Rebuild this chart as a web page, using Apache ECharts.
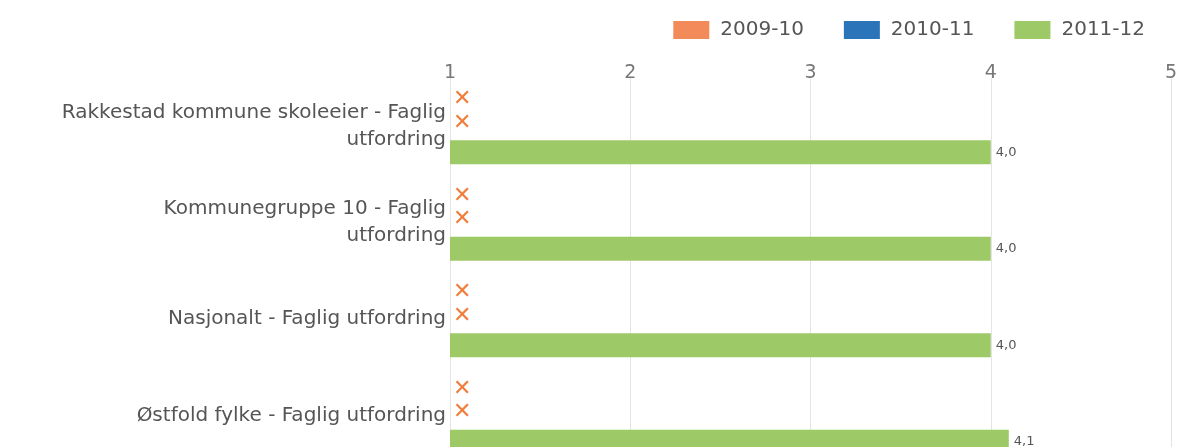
<!DOCTYPE html>
<html>
<head>
<meta charset="utf-8">
<script src="https://cdn.jsdelivr.net/npm/echarts@6/dist/echarts.min.js"></script>
<style>
  html, body { margin: 0; padding: 0; background: #fff; }
  #chart { width: 1182px; height: 447px; }
</style>
</head>
<body>
<div id="chart"></div>
<script>
// kategorier (ovenfra og ned)
var categories = [
    'Rakkestad kommune skoleeier - Faglig\nutfordring',
    'Kommunegruppe 10 - Faglig\nutfordring',
    'Nasjonalt - Faglig utfordring',
    'Østfold fylke - Faglig utfordring'
];
var seriesNames = ['2009-10', '2010-11', '2011-12'];
// null = mangler data (vises som kryss)
var values0910 = [null, null, null, null];
var values1011 = [null, null, null, null];
var values1112 = [4.0, 4.0, 4.0, 4.1];
var xTicks = [1, 2, 3, 4, 5];

var FONT = "'DejaVu Sans'";
var colors = ['#f28a5a', '#2c74b9', '#9dc966'];
var crossColor = '#f07d3a';
var xMin = xTicks[0];
var xMax = xTicks[xTicks.length - 1];

var myChart = echarts.init(document.getElementById('chart'));

function buildData(values, labelOffset) {
    var out = [];
    for (var i = 0; i < values.length; i++) {
        if (values[i] == null) {
            // manglende verdi: tom stolpe ved aksens start, med kryss
            out.push({
                value: xMin,
                missing: true,
                label: {
                    show: true,
                    position: 'right',
                    distance: 3,
                    offset: labelOffset,
                    formatter: '\u2715',
                    color: crossColor,
                    fontSize: 22,
                    fontFamily: FONT
                }
            });
        } else {
            out.push({ value: values[i] });
        }
    }
    return out;
}

function makeSeries(idx, values, labelOffset) {
    return {
        name: seriesNames[idx],
        type: 'bar',
        barWidth: 24,
        barGap: '8%',
        itemStyle: { color: colors[idx] },
        label: {
            show: true,
            position: 'right',
            distance: 5,
            color: '#555',
            fontSize: 13,
            fontFamily: FONT,
            formatter: function (p) {
                if (p.data && p.data.missing) return '\u2715';
                return p.value.toFixed(1).replace('.', ',');
            }
        },
        data: buildData(values, labelOffset)
    };
}

var option = {
    animation: false,
    backgroundColor: '#fff',
    textStyle: { fontFamily: FONT },
    legend: {
        top: 15,
        right: 32,
        itemWidth: 36,
        itemHeight: 18,
        itemGap: 40,
        icon: 'rect',
        textStyle: { color: '#555', fontSize: 20, fontFamily: FONT, padding: [0, 0, 0, 6] },
        data: seriesNames
    },
    grid: {
        left: 450,
        right: 11,
        top: 78,
        height: 386,
        outerBoundsMode: 'none',
        containLabel: false
    },
    xAxis: {
        type: 'value',
        position: 'top',
        min: xMin,
        max: xMax,
        interval: 1,
        offset: -8,
        axisLine: { show: false },
        axisTick: { show: false },
        axisLabel: { color: '#777', fontSize: 19, margin: 3, fontFamily: FONT },
        splitLine: { lineStyle: { color: '#e4e4e4', width: 1 } }
    },
    yAxis: {
        type: 'category',
        inverse: true,
        data: categories,
        axisLine: { show: false },
        axisTick: { show: false },
        axisLabel: {
            color: '#555',
            fontSize: 20,
            lineHeight: 27,
            margin: 4,
            align: 'right',
            fontFamily: FONT
        }
    },
    series: [
        makeSeries(0, values0910, [0, -1]),
        makeSeries(1, values1011, [0, -3]),
        makeSeries(2, values1112, [0, 0])
    ]
};

myChart.setOption(option);
</script>
</body>
</html>
